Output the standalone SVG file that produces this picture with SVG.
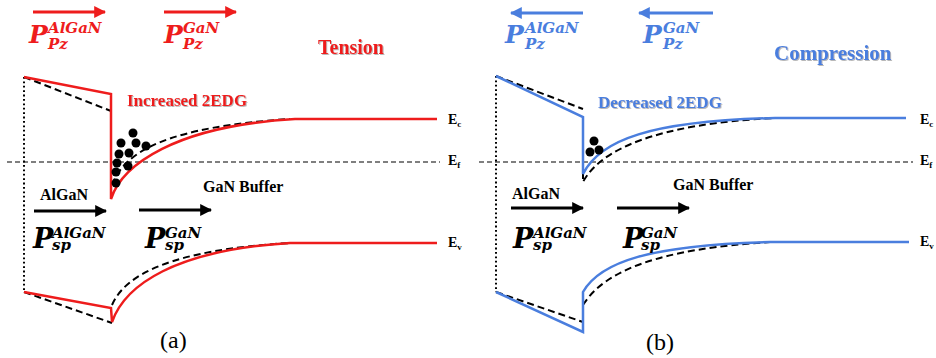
<svg xmlns="http://www.w3.org/2000/svg" width="936" height="358" viewBox="0 0 936 358">
<defs>
<style>
.red{stroke:#ee1c1c;stroke-width:2.5;fill:none}
.blue{stroke:#4a7ede;stroke-width:2.5;fill:none}
.dash{stroke:#000;stroke-width:2;fill:none;stroke-dasharray:7,4}
.ef{stroke:#000;stroke-width:1.2;fill:none;stroke-dasharray:5,3}
.dot{stroke:#000;stroke-width:2;fill:none;stroke-dasharray:1.8,2.6}
.math{font-family:"DejaVu Serif",serif;font-weight:bold;font-style:italic}
.big{font-size:25px}
.sm{font-size:15px}
.lab{font-family:"Liberation Serif",serif;font-weight:bold}
.e{font-family:"Liberation Serif",serif;font-weight:bold;font-size:14px}
.cap{font-family:"Liberation Serif",serif;font-size:24px}
</style>
<marker id="ar" viewBox="0 0 10 10" refX="9" refY="5" markerWidth="4" markerHeight="4" orient="auto" markerUnits="strokeWidth"><path d="M0,0 L10,5 L0,10 z" fill="#ee1c1c"/></marker>
<marker id="ab" viewBox="0 0 10 10" refX="9" refY="5" markerWidth="4" markerHeight="4" orient="auto" markerUnits="strokeWidth"><path d="M0,0 L10,5 L0,10 z" fill="#4a7ede"/></marker>
<marker id="ak" viewBox="0 0 10 10" refX="9" refY="5" markerWidth="4" markerHeight="4" orient="auto" markerUnits="strokeWidth"><path d="M0,0 L10,5 L0,10 z" fill="#000"/></marker>
<filter id="sh" x="-10%" y="-30%" width="120%" height="160%"><feDropShadow dx="1" dy="1" stdDeviation="0.6" flood-color="#888" flood-opacity="0.6"/></filter>
</defs>

<g id="connectors">
<!-- panel a -->
<line class="dot" x1="24" y1="77" x2="24" y2="292"/>
<line class="ef" x1="7" y1="162" x2="440" y2="162"/>
<path class="dash" d="M24,77 L111,111"/>
<path class="dash" d="M112,185 C125,150 170,127 290,119"/>
<path class="red" d="M24,77 L111,94 L111,199 C122,165 175,126 295,119 L437,119"/>
<path class="dash" d="M24,292 L112,323"/>
<path class="dash" d="M112,305 C125,275 170,250 290,243"/>
<path class="red" d="M24,292 L111,308 L112,322 C125,285 175,250 290,243 L437,243"/>
<line stroke="#ee1c1c" stroke-width="3" x1="33" y1="12" x2="105" y2="12" marker-end="url(#ar)"/>
<line stroke="#ee1c1c" stroke-width="3" x1="164" y1="12" x2="236" y2="12" marker-end="url(#ar)"/>
<line stroke="#000" stroke-width="3" x1="34" y1="211" x2="106" y2="211" marker-end="url(#ak)"/>
<line stroke="#000" stroke-width="3" x1="139" y1="210" x2="211" y2="210" marker-end="url(#ak)"/>
<!-- panel b -->
<line class="dot" x1="496" y1="76" x2="496" y2="292"/>
<line class="ef" x1="479" y1="162" x2="913" y2="162"/>
<path class="dash" d="M496,76 L583,109"/>
<path class="dash" d="M583,172 L583,182 C600,150 655,124 775,118"/>
<path class="blue" d="M496,76 L583,117 L583,174 C600,140 650,121 775,118 L906,118"/>
<path class="dash" d="M496,292 L583,322"/>
<path class="dash" d="M583,305 C605,270 660,249 770,242"/>
<path class="blue" d="M496,292 L583,332 L583,292 C600,262 650,245 770,242 L909,242"/>
<line stroke="#4a7ede" stroke-width="3" x1="583" y1="13" x2="511" y2="13" marker-end="url(#ab)"/>
<line stroke="#4a7ede" stroke-width="3" x1="713" y1="13" x2="639" y2="13" marker-end="url(#ab)"/>
<line stroke="#000" stroke-width="3" x1="511" y1="208" x2="583" y2="208" marker-end="url(#ak)"/>
<line stroke="#000" stroke-width="3" x1="617" y1="208" x2="689" y2="208" marker-end="url(#ak)"/>
</g>

<g id="electrons-a" fill="#000">
<circle cx="133" cy="133" r="4.5"/><circle cx="121" cy="143" r="4.5"/><circle cx="136" cy="143" r="4.5"/><circle cx="146" cy="146" r="4.5"/>
<circle cx="119" cy="154" r="4.5"/><circle cx="129" cy="153" r="4.5"/><circle cx="117" cy="163" r="4.5"/><circle cx="128" cy="166" r="4.5"/>
<circle cx="116" cy="172" r="4.5"/><circle cx="116" cy="183" r="4.5"/>
</g>
<g id="electrons-b" fill="#000">
<circle cx="594" cy="141" r="4.5"/><circle cx="590" cy="152" r="4.5"/><circle cx="599" cy="150" r="4.5"/>
</g>

<g id="labels-a">
<g fill="#ee1c1c" class="math">
<text x="29" y="43"><tspan class="big">P</tspan><tspan class="sm" x="48" y="33">AlGaN</tspan><tspan class="sm" x="48" y="49">Pz</tspan></text>
<text x="164" y="43"><tspan class="big">P</tspan><tspan class="sm" x="183" y="33">GaN</tspan><tspan class="sm" x="183" y="49">Pz</tspan></text>
</g>
<text class="lab" x="318" y="54" font-size="20" fill="#ee1c1c" filter="url(#sh)">Tension</text>
<text class="lab" x="127" y="106" font-size="17" fill="#ee1c1c" filter="url(#sh)">Increased 2EDG</text>
<text class="lab" x="40" y="200" font-size="16">AlGaN</text>
<text class="lab" x="203" y="192" font-size="16">GaN Buffer</text>
<g class="math" fill="#000">
<text x="33" y="248"><tspan font-size="27">P</tspan><tspan class="sm" x="52" y="238">AlGaN</tspan><tspan class="sm" x="52" y="250">sp</tspan></text>
<text x="145" y="248"><tspan font-size="27">P</tspan><tspan class="sm" x="165" y="238">GaN</tspan><tspan class="sm" x="165" y="250">sp</tspan></text>
</g>
<text class="e" x="448" y="124">E<tspan font-size="9" dy="3">c</tspan></text>
<text class="e" x="448" y="165">E<tspan font-size="9" dy="3">f</tspan></text>
<text class="e" x="448" y="247">E<tspan font-size="9" dy="3">v</tspan></text>
<text class="cap" x="160" y="348">(a)</text>
</g>

<g id="labels-b">
<g fill="#4a7ede" class="math">
<text x="505" y="43"><tspan class="big">P</tspan><tspan class="sm" x="525" y="33">AlGaN</tspan><tspan class="sm" x="525" y="49">Pz</tspan></text>
<text x="643" y="43"><tspan class="big">P</tspan><tspan class="sm" x="663" y="33">GaN</tspan><tspan class="sm" x="663" y="49">Pz</tspan></text>
</g>
<text class="lab" x="774" y="60" font-size="21" fill="#4a7ede" filter="url(#sh)">Compression</text>
<text class="lab" x="598" y="108" font-size="17" fill="#4a7ede" filter="url(#sh)">Decreased 2EDG</text>
<text class="lab" x="512" y="199" font-size="16">AlGaN</text>
<text class="lab" x="673" y="190" font-size="16">GaN Buffer</text>
<g class="math" fill="#000">
<text x="513" y="248"><tspan font-size="27">P</tspan><tspan class="sm" x="533" y="238">AlGaN</tspan><tspan class="sm" x="533" y="250">sp</tspan></text>
<text x="623" y="248"><tspan font-size="27">P</tspan><tspan class="sm" x="641" y="238">GaN</tspan><tspan class="sm" x="641" y="250">sp</tspan></text>
</g>
<text class="e" x="920" y="124">E<tspan font-size="9" dy="3">c</tspan></text>
<text class="e" x="920" y="165">E<tspan font-size="9" dy="3">f</tspan></text>
<text class="e" x="920" y="246">E<tspan font-size="9" dy="3">v</tspan></text>
<text class="cap" x="646" y="350">(b)</text>
</g>
</svg>
